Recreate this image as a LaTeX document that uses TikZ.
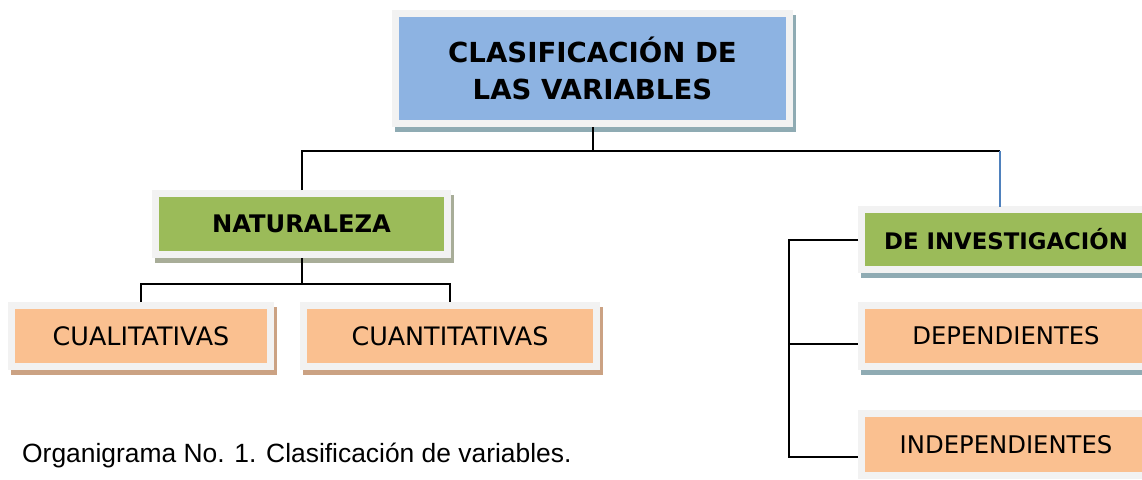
\documentclass[tikz,border=0pt]{standalone}
\usepackage{fontspec}
\setmainfont{DejaVu Sans}
\newfontfamily\captionfont{Liberation Sans}
\usepackage{tikz}
\usetikzlibrary{positioning}
\usetikzlibrary{calc, backgrounds}
\definecolor{boxblue}{HTML}{8DB3E2}
\definecolor{boxgreen}{HTML}{9BBB59}
\definecolor{boxorange}{HTML}{FAC090}
\definecolor{framegray}{HTML}{F2F2F2}
\definecolor{blueshade}{HTML}{8FABB3}
\definecolor{greenshade}{HTML}{A8AD98}
\definecolor{orangeshade}{HTML}{CBA283}
\definecolor{linkblue}{HTML}{4F81BD}

\begin{document}
\begin{tikzpicture}[x=1pt,y=-1pt]
\tikzstyle{frame node}=[rectangle,draw=framegray,line width=7pt,inner sep=0pt,align=center]
\tikzstyle{title node}=[frame node,fill=boxblue,font=\fontsize{27.6}{37}\selectfont\bfseries]
\tikzstyle{head node}=[frame node,fill=boxgreen,font=\fontsize{24.2}{28}\selectfont\bfseries]
\tikzstyle{leaf node}=[frame node,fill=boxorange,font=\fontsize{24.3}{29}\selectfont]
\tikzset{
  shade/.style = {preaction={draw=#1,fill=#1,transform canvas={xshift=3pt,yshift=-5pt}}},
  big leaf/.style = {font=\fontsize{25.4}{29}\selectfont},
  conn/.style  = {draw=black,line width=2pt},
  bconn/.style = {draw=linkblue,line width=2pt}
}
\clip (0,0) rectangle (1142,479);
\useasboundingbox (0,0) rectangle (1142,479);

    \node[title node,shade=blueshade,minimum width=394,minimum height=110] (clas) at (592.5,68.5) {CLASIFICACIÓN DE\\LAS VARIABLES};
    \node[head node,shade=greenshade,minimum width=292,minimum height=61] (nat) at (301.5,224) {NATURALEZA};
    \node[leaf node,big leaf,shade=orangeshade,minimum width=259,minimum height=61] (cuali) at (141,336) {CUALITATIVAS};
    \node[leaf node,big leaf,shade=orangeshade,minimum width=293,minimum height=61] (cuant) at (450,336) {CUANTITATIVAS};
    %%%%%%%%%%%%%%%%%%%%%%%%%%%%%%%%%%%%%%%%%%
    \node[head node,font=\fontsize{22.8}{28}\selectfont\bfseries,shade=blueshade,minimum width=289,minimum height=60] (inv) at (1006,239.5) {DE INVESTIGACIÓN};
    \node[leaf node,shade=blueshade,minimum width=289,minimum height=61] (dep) at (1006,336) {DEPENDIENTES};
    \node[leaf node,minimum width=289,minimum height=62] (indep) at (1006,444.5) {INDEPENDIENTES};
    \node[anchor=base west,inner sep=0pt,font=\fontsize{26.4}{32}\selectfont\captionfont] (cap) at (22,462) {Organigrama No. 1. Clasificación de variables.};

    \coordinate (bar) at (0,151);
    \coordinate (nbar) at (0,284);
    \coordinate (invtop) at (1000,207);
    \coordinate (brk) at (789,0);
    \coordinate (dep in) at ([yshift=-8pt]dep.west);
    \coordinate (indep in) at ([yshift=-12.5pt]indep.west);

    \draw[conn] (clas.south) -- (clas.south |- bar);
    \draw[conn] (nat.north) |- (bar -| invtop);
    \draw[bconn] (bar -| invtop) -- (invtop);
    \draw[conn] (nat.south) -- (nat.south |- nbar);
    \draw[conn] (cuali.north) |- (cuant.north |- nbar) -- (cuant.north);
    \draw[conn] (inv.west) -- (inv.west -| brk) -- (brk |- indep in) -- (indep in);
    \draw[conn] (brk |- dep in) -- (dep in);
\end{tikzpicture}
\end{document}
